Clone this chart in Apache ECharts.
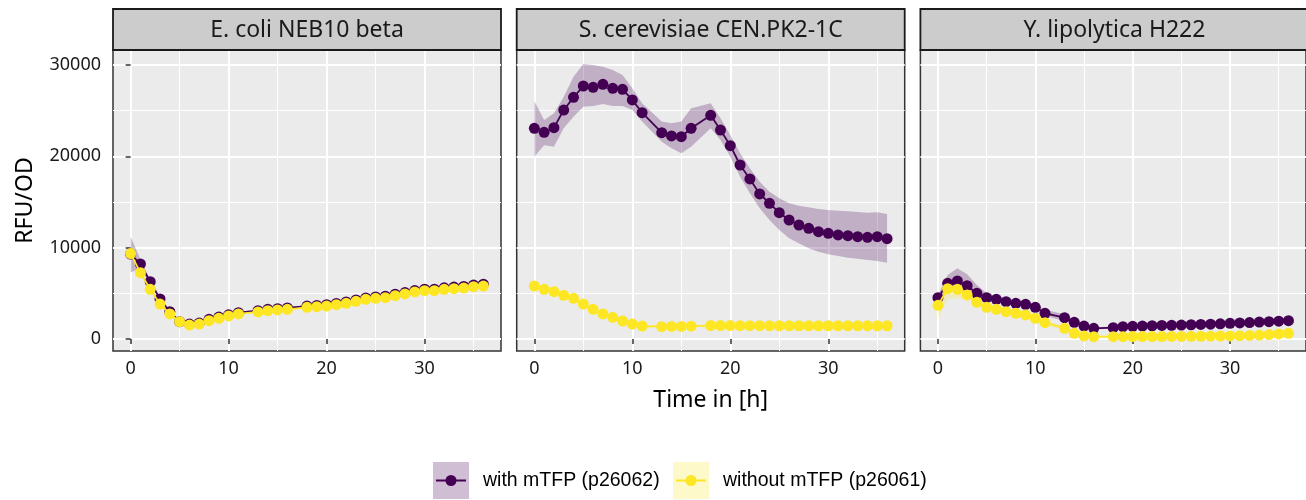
<!DOCTYPE html>
<html><head><meta charset="utf-8">
<script src="https://cdn.jsdelivr.net/npm/echarts@6/dist/echarts.min.js"></script>
<style>html,body{margin:0;padding:0;background:#fff}#c{width:1306px;height:500px}</style>
</head><body><div id="c"></div>
<script>
// ---- data ----
var panels = ['E. coli NEB10 beta', 'S. cerevisiae CEN.PK2-1C', 'Y. lipolytica H222'];
var seriesNames = ['with mTFP (p26062)', 'without mTFP (p26061)'];
var time = [0,1,2,3,4,5,6,7,8,9,10,11,13,14,15,16,18,19,20,21,22,23,24,25,26,27,28,29,30,31,32,33,34,35,36];
var xTicks = [0, 10, 20, 30];
var xMinorTicks = [5, 15, 25, 35];
var yTicks = [0, 10000, 20000, 30000];
var yMinorTicks = [5000, 15000, 25000];

// E. coli
var ecoliWith = [9300,8210,6270,4380,2990,1900,1640,1750,2150,2400,2650,2880,3100,3250,3320,3400,3600,3680,3760,3900,4060,4280,4500,4600,4680,4900,5080,5300,5450,5450,5600,5680,5750,5900,6000];
var ecoliWithLow = [7300,7700,6100,4250,2880,1800,1540,1650,2050,2300,2550,2780,3000,3150,3220,3300,3500,3580,3660,3800,3960,4180,4400,4500,4580,4800,4980,5200,5350,5350,5500,5580,5650,5800,5900];
var ecoliWithHigh = [11200,8700,6450,4500,3100,2000,1740,1850,2250,2500,2750,2980,3200,3350,3420,3500,3700,3780,3860,4000,4160,4380,4600,4700,4780,5000,5180,5400,5550,5550,5700,5780,5850,6000,6100];
var ecoliWithout = [9350,7260,5440,3830,2740,1900,1530,1640,2010,2260,2520,2740,2960,3100,3180,3250,3470,3540,3610,3760,3910,4130,4350,4450,4520,4740,4930,5150,5290,5290,5440,5510,5580,5730,5800];
var ecoliWithoutLow = [9100,7100,5300,3720,2650,1820,1450,1560,1930,2180,2440,2660,2880,3020,3100,3170,3390,3460,3530,3680,3830,4050,4270,4370,4440,4660,4850,5070,5210,5210,5360,5430,5500,5650,5720];
var ecoliWithoutHigh = [9600,7420,5580,3940,2830,1980,1610,1720,2090,2340,2600,2820,3040,3180,3260,3330,3550,3620,3690,3840,3990,4210,4430,4530,4600,4820,5010,5230,5370,5370,5520,5590,5660,5810,5880];

// S. cerevisiae
var scerWith = [23070,22630,23140,25070,26460,27700,27560,27890,27450,27340,26170,24780,22590,22230,22150,23070,24490,22880,21170,19050,17520,15880,14860,13830,13030,12480,12120,11750,11570,11390,11310,11200,11130,11200,10980];
var scerWithLow = [19960,21200,21060,23070,24340,25440,25510,25730,25510,25510,25070,23800,21600,20880,20330,21060,23070,21790,19960,17770,15950,14310,13030,11930,11020,10480,9930,9560,9270,9090,8900,8790,8650,8540,8350];
var scerWithHigh = [26060,23980,24710,26530,28720,30110,30000,29810,29450,28910,27450,25800,23800,23620,23800,25260,25800,24160,22340,20330,18690,17220,16130,15400,14860,14600,14420,14230,14120,14050,13980,13900,13830,13870,13690];
var scerWithout = [5800,5440,5180,4780,4450,3830,3250,2740,2370,1970,1640,1420,1350,1380,1380,1400,1470,1470,1470,1460,1460,1460,1450,1450,1450,1450,1450,1450,1450,1450,1450,1450,1450,1450,1450];
var scerWithoutLow = [5650,5300,5050,4650,4320,3700,3130,2620,2250,1860,1530,1320,1250,1280,1280,1300,1370,1370,1370,1360,1360,1360,1350,1350,1350,1350,1350,1350,1350,1350,1350,1350,1350,1350,1350];
var scerWithoutHigh = [5950,5580,5310,4910,4580,3960,3370,2860,2490,2080,1750,1520,1450,1480,1480,1500,1570,1570,1570,1560,1560,1560,1550,1550,1550,1550,1550,1550,1550,1550,1550,1550,1550,1550,1550];

// Y. lipolytica
var ylipWith = [4520,6100,6350,5840,5000,4520,4350,4090,3910,3800,3470,2810,2330,1830,1420,1170,1240,1350,1390,1420,1450,1480,1500,1530,1560,1590,1620,1660,1720,1760,1800,1850,1900,1950,2010];
var ylipWithLow = [4200,5300,5200,5000,4400,4100,4000,3800,3650,3500,3200,2500,2000,1600,1250,1050,1120,1230,1270,1300,1330,1360,1380,1410,1440,1470,1500,1540,1600,1640,1680,1730,1780,1830,1890];
var ylipWithHigh = [4800,7000,7750,7100,5900,5000,4700,4400,4200,4100,3800,3200,2700,2100,1600,1300,1360,1470,1510,1540,1570,1600,1620,1650,1680,1710,1740,1780,1840,1880,1920,1970,2020,2070,2130];
var ylipWithout = [3690,5510,5440,4820,4020,3470,3250,2990,2810,2630,2260,1790,1170,620,330,250,250,250,260,260,270,270,280,280,290,300,310,320,340,360,390,430,480,550,620];
var ylipWithoutLow = [2200,4400,4500,4300,3700,3300,3000,2800,2600,2400,2000,1550,950,450,200,184,190,190,200,200,210,210,220,220,230,240,250,260,280,300,330,370,420,490,560];
var ylipWithoutHigh = [4200,6500,6400,5400,4400,3700,3500,3200,3000,2850,2500,2000,1400,800,450,330,310,310,320,320,330,330,340,340,350,360,370,380,400,420,450,490,540,610,680];

var withVals = [ecoliWith, scerWith, ylipWith];
var withLow = [ecoliWithLow, scerWithLow, ylipWithLow];
var withHigh = [ecoliWithHigh, scerWithHigh, ylipWithHigh];
var withoutVals = [ecoliWithout, scerWithout, ylipWithout];
var withoutLow = [ecoliWithoutLow, scerWithoutLow, ylipWithoutLow];
var withoutHigh = [ecoliWithoutHigh, scerWithoutHigh, ylipWithoutHigh];

// ---- layout ----
var PURPLE = '#440154', YELLOW = '#FDE725';
var PURPLE_RIB = 'rgba(68,1,84,0.25)', YELLOW_RIB = 'rgba(253,231,37,0.25)';
var gridLefts = [113, 516.7, 920.4];
var GW = 388, GT = 50, GH = 301;
var XMIN = -1.8, XMAX = 37.8, YMIN = -1314, YMAX = 31642;
var FONT = 'Noto Sans';

function pairs(xs, ys) { return xs.map(function (x, i) { return [x, ys[i]]; }); }
function triples(xs, lo, hi) { return xs.map(function (x, i) { return [x, lo[i], hi[i]]; }); }
function plain(v) { return String(v); }

function ribbonRender(fill) {
  return function (params, api) {
    if (params.dataIndexInside !== 0) return null;
    var n = params.dataInsideLength, upper = [], lower = [];
    for (var i = 0; i < n; i++) {
      upper.push(api.coord([api.value(0, i), api.value(2, i)]));
      lower.push(api.coord([api.value(0, i), api.value(1, i)]));
    }
    return {type: 'polygon', shape: {points: upper.concat(lower.reverse())}, style: {fill: fill}, silent: true};
  };
}

var grids = [], xAxes = [], yAxes = [], series = [], graphics = [];
for (var p = 0; p < 3; p++) {
  grids.push({left: gridLefts[p], top: GT, width: GW, height: GH, show: true,
    backgroundColor: '#EBEBEB', borderColor: '#333333', borderWidth: 1.5, containLabel: false});
  xAxes.push({type: 'value', gridIndex: p, min: XMIN, max: XMAX,
    name: p === 1 ? 'Time in [h]' : '', nameLocation: 'middle', nameGap: 38,
    nameTextStyle: {fontFamily: FONT, fontSize: 23, color: '#000'},
    axisLine: {show: false},
    axisTick: {show: true, length: 5, lineStyle: {color: '#333333', width: 1.5}, customValues: xTicks},
    axisLabel: {show: true, customValues: xTicks, formatter: plain, margin: 9, fontFamily: FONT, fontSize: 18, color: '#1a1a1a'},
    splitLine: {show: true, lineStyle: {color: '#ffffff', width: 2}}});
  xAxes.push({type: 'value', gridIndex: p, min: XMIN, max: XMAX, position: 'bottom',
    axisLine: {show: false}, axisTick: {show: false, customValues: xMinorTicks},
    axisLabel: {show: false, customValues: xMinorTicks},
    splitLine: {show: true, lineStyle: {color: '#ffffff', width: 1}}});
  yAxes.push({type: 'value', gridIndex: p, min: YMIN, max: YMAX,
    name: p === 0 ? 'RFU/OD' : '', nameLocation: 'middle', nameGap: 76,
    nameTextStyle: {fontFamily: FONT, fontSize: 23, color: '#000'},
    axisLine: {show: false},
    axisTick: {show: p === 0, length: 5, lineStyle: {color: '#333333', width: 1.5}, customValues: yTicks},
    axisLabel: {show: p === 0, customValues: yTicks, formatter: plain, margin: 12, fontFamily: FONT, fontSize: 18, color: '#1a1a1a'},
    splitLine: {show: true, lineStyle: {color: '#ffffff', width: 2}}});
  yAxes.push({type: 'value', gridIndex: p, min: YMIN, max: YMAX,
    axisLine: {show: false}, axisTick: {show: false, customValues: yMinorTicks},
    axisLabel: {show: false, customValues: yMinorTicks},
    splitLine: {show: true, lineStyle: {color: '#ffffff', width: 1}}});

  var xi = 2 * p, yi = 2 * p;
  series.push({type: 'custom', xAxisIndex: xi, yAxisIndex: yi, data: triples(time, withLow[p], withHigh[p]),
    encode: {x: 0, y: [1, 2]}, renderItem: ribbonRender(PURPLE_RIB), clip: true, silent: true, z: 2});
  series.push({type: 'custom', xAxisIndex: xi, yAxisIndex: yi, data: triples(time, withoutLow[p], withoutHigh[p]),
    encode: {x: 0, y: [1, 2]}, renderItem: ribbonRender(YELLOW_RIB), clip: true, silent: true, z: 2});
  series.push({type: 'line', name: seriesNames[0], xAxisIndex: xi, yAxisIndex: yi, data: pairs(time, withVals[p]),
    symbol: 'circle', symbolSize: 11, showSymbol: true, lineStyle: {color: PURPLE, width: 1.8},
    itemStyle: {color: PURPLE, borderWidth: 0}, z: 3});
  series.push({type: 'line', name: seriesNames[1], xAxisIndex: xi, yAxisIndex: yi, data: pairs(time, withoutVals[p]),
    symbol: 'circle', symbolSize: 11, showSymbol: true, lineStyle: {color: YELLOW, width: 1.8},
    itemStyle: {color: YELLOW, borderWidth: 0}, z: 4});

  graphics.push({type: 'rect', shape: {x: gridLefts[p], y: 9, width: GW, height: 41},
    style: {fill: '#CCCCCC', stroke: '#1a1a1a', lineWidth: 1.8}, z: 10});
  graphics.push({type: 'text', x: gridLefts[p] + GW / 2, y: 30,
    style: {text: panels[p], fontFamily: FONT, fontSize: 23, fill: '#1a1a1a', align: 'center', verticalAlign: 'middle'}, z: 11});
}

var legendItems = [
  {x: 433, fill: '#D0BFD4', color: PURPLE, textX: 483, label: seriesNames[0]},
  {x: 673, fill: '#FEF9C8', color: YELLOW, textX: 723, label: seriesNames[1]}
];
legendItems.forEach(function (l) {
  graphics.push({type: 'rect', shape: {x: l.x, y: 462, width: 36, height: 37}, style: {fill: l.fill}, z: 10});
  graphics.push({type: 'line', shape: {x1: l.x + 3, y1: 480.5, x2: l.x + 33, y2: 480.5}, style: {stroke: l.color, lineWidth: 2}, z: 11});
  graphics.push({type: 'circle', shape: {cx: l.x + 18, cy: 480.5, r: 5.5}, style: {fill: l.color}, z: 12});
  graphics.push({type: 'text', x: l.textX, y: 481, style: {text: l.label, fontFamily: 'Liberation Sans', fontSize: 19.5,
    fill: '#000', align: 'left', verticalAlign: 'middle'}, z: 12});
});

var chart = echarts.init(document.getElementById('c'), null, {renderer: 'canvas'});
chart.setOption({
  animation: false,
  backgroundColor: '#ffffff',
  grid: grids, xAxis: xAxes, yAxis: yAxes, series: series, graphic: graphics
});
</script></body></html>
